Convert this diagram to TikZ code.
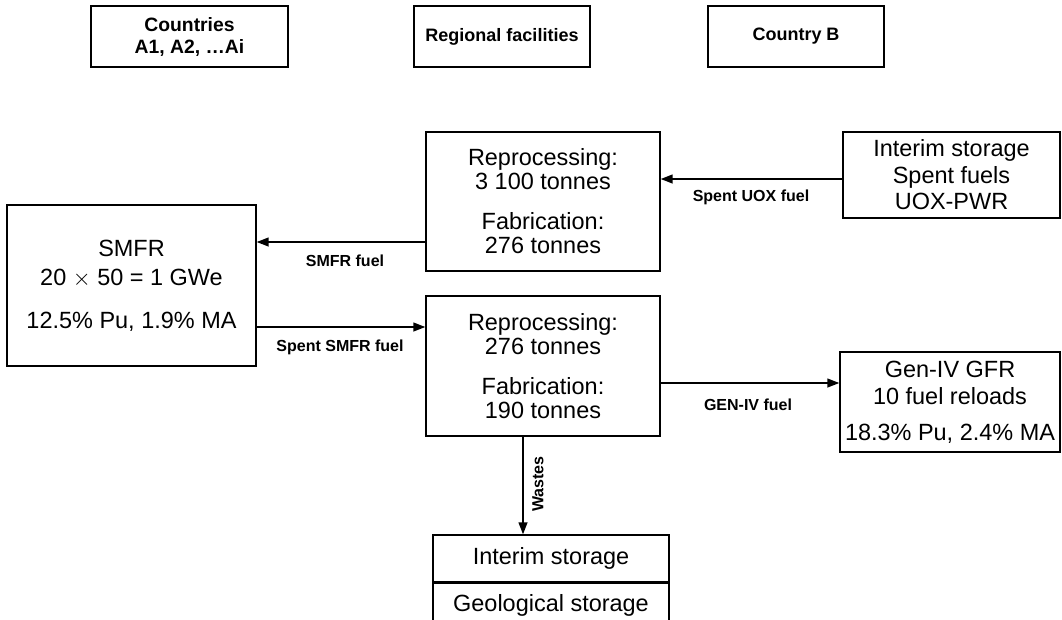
\documentclass[tikz,border=0pt]{standalone}
\usepackage{fontspec}
\setmainfont{Liberation Sans}
\usetikzlibrary{arrows.meta}
\begin{document}
\begin{tikzpicture}[x=0.75pt,y=-0.75pt,
  box/.style={draw=black,line width=0.9pt,inner sep=0pt,align=center,
    font=\fontsize{17.6pt}{18pt}\selectfont},
  headbox/.style={draw=black,line width=0.9pt,inner sep=0pt,align=center,
    font=\fontsize{13.5pt}{16.5pt}\selectfont\bfseries,
    minimum height=45.75pt},
  flow/.style={line width=1.5pt,-{Triangle[length=9pt,width=6.5pt]}},
  flowlabel/.style={font=\fontsize{12pt}{14pt}\selectfont\bfseries,inner sep=0pt}]
\clip (0,0) rectangle (1062,619);

% column headers
\node[headbox,minimum width=147.75pt,font=\fontsize{14.5pt}{16.5pt}\selectfont\bfseries]
  (hA) at (189.5,36.5) {Countries\\A1, A2, \ldots Ai};
\node[headbox,minimum width=132pt] (hR) at (502,36.5) {Regional facilities};
\node[headbox,minimum width=132pt] (hB) at (796,36.5) {Country B};

% facilities
\node[box,minimum width=175.5pt,minimum height=104.25pt] (rep1) at (543,201.5)
  {Reprocessing:\\3 100 tonnes\\[12pt]Fabrication:\\276 tonnes};
\node[box,minimum width=162.75pt,minimum height=64.5pt] (isB) at (951.5,175)
  {Interim storage\\[1.9pt]Spent fuels\\[1.9pt]UOX-PWR};
\node[box,minimum width=186.75pt,minimum height=120.75pt] (smfr) at (131.5,285.5)
  {SMFR\\[3.75pt]20 $\times$ 50 = 1 GWe\\[14.25pt]12.5\% Pu, 1.9\% MA};
\node[box,minimum width=175.5pt,minimum height=105pt] (rep2) at (543,366)
  {Reprocessing:\\276 tonnes\\[12pt]Fabrication:\\190 tonnes};
\node[box,minimum width=165pt,minimum height=75pt] (gfr) at (950,402)
  {Gen-IV GFR\\[2.25pt]10 fuel reloads\\[9pt]18.3\% Pu, 2.4\% MA};

% waste storage
\node[box,minimum width=177pt,minimum height=35.25pt] (st1) at (551,558.5) {Interim storage};
\node[box,minimum width=177pt,minimum height=51pt,anchor=north] (st2) at (st1.south) {};
\node[font=\fontsize{17.6pt}{18pt}\selectfont,inner sep=0pt] (st2t) at (551,605) {Geological storage};

% flows
\draw[flow] (isB.west |- 0,179) -- (rep1.east |- 0,179);
\node[flowlabel] (lUOX) at (751,197) {Spent UOX fuel};
\draw[flow] (rep1.west |- 0,242) -- (smfr.east |- 0,242);
\node[flowlabel] (lSMFR) at (345,261) {SMFR fuel};
\draw[flow] (smfr.east |- 0,327) -- (rep2.west |- 0,327);
\node[flowlabel] (lSpent) at (340,347) {Spent SMFR fuel};
\draw[flow] (rep2.east |- 0,383) -- (gfr.west |- 0,383);
\node[flowlabel] (lGen) at (748,405) {GEN-IV fuel};
\draw[flow] (rep2.south -| 523,0) -- (st1.north -| 523,0);
\node[flowlabel,rotate=90] (lW) at (538,484) {Wastes};
\end{tikzpicture}
\end{document}
